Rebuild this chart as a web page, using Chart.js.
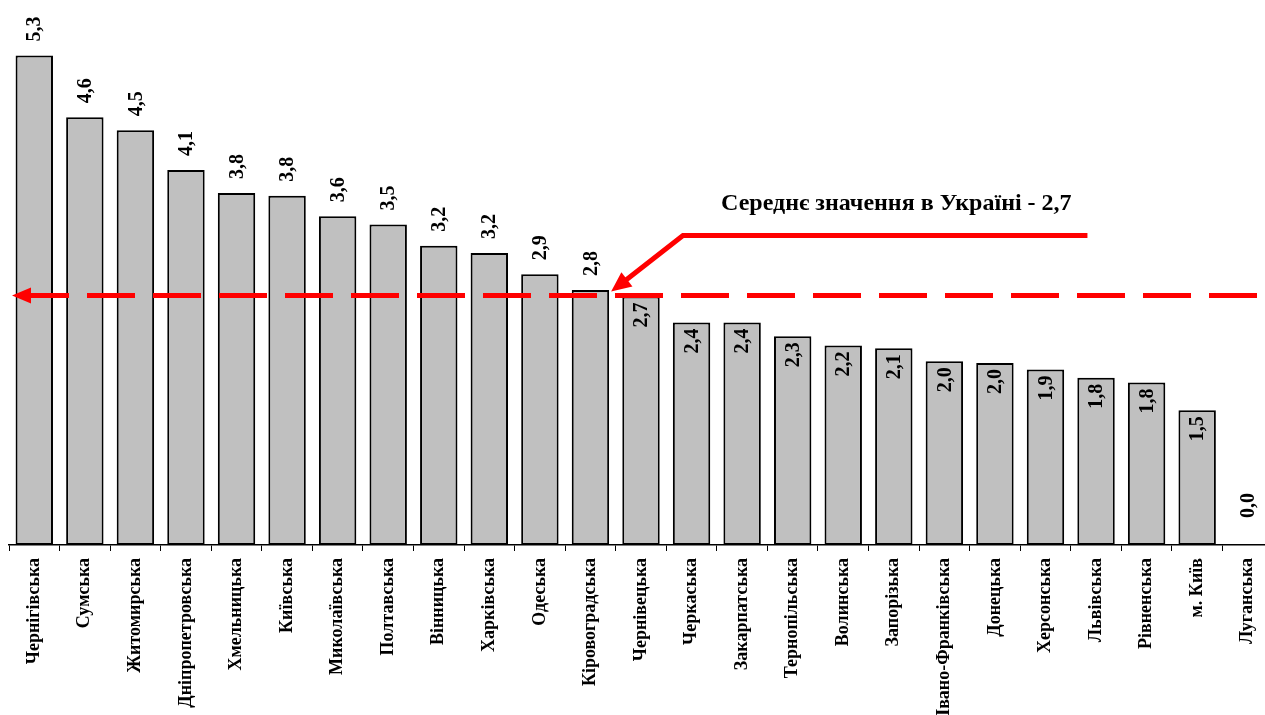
<!DOCTYPE html>
<html>
<head>
<meta charset="utf-8">
<script src="https://cdn.jsdelivr.net/npm/chart.js@4"></script>
<style>
  html, body { margin: 0; padding: 0; background: #fff; overflow: hidden; }
  #wrap { width: 1273px; height: 715px; position: relative; }
</style>
</head>
<body>
<div id="wrap"><canvas id="chart"></canvas></div>
<script>
const regions = ["Чернігівська", "Сумська", "Житомирська", "Дніпропетровська", "Хмельницька",
  "Київська", "Миколаївська", "Полтавська", "Вінницька", "Харківська", "Одеська",
  "Кіровоградська", "Чернівецька", "Черкаська", "Закарпатська", "Тернопільська",
  "Волинська", "Запорізька", "Івано-Франківська", "Донецька", "Херсонська",
  "Львівська", "Рівненська", "м. Київ", "Луганська"];
const values = [5.3, 4.63, 4.49, 4.06, 3.81, 3.78, 3.56, 3.47, 3.24, 3.16, 2.93, 2.76,
  2.69, 2.41, 2.41, 2.26, 2.16, 2.13, 1.99, 1.97, 1.90, 1.81, 1.76, 1.46, 0];
const avgValue = 2.7;
const avgText = "Середнє значення в Україні - 2,7";

const FONT = "'Liberation Serif', 'Times New Roman', serif";
const RED = "#ff0000";

function fmt(v) {
  return v.toFixed(1).replace(".", ",");
}

function arrowHead(ctx, tipX, tipY, angle, len, half) {
  ctx.save();
  ctx.translate(tipX, tipY);
  ctx.rotate(angle);
  ctx.beginPath();
  ctx.moveTo(0, 0);
  ctx.lineTo(len, -half);
  ctx.lineTo(len, half);
  ctx.closePath();
  ctx.fill();
  ctx.restore();
}

const overlay = {
  id: "overlay",
  afterDatasetsDraw(chart) {
    const ctx = chart.ctx;
    const area = chart.chartArea;
    const x = chart.scales.x;
    const y = chart.scales.y;
    const bars = chart.getDatasetMeta(0).data;

    // value labels, rotated
    ctx.save();
    ctx.fillStyle = "#000";
    ctx.font = "bold 20px " + FONT;
    ctx.textBaseline = "middle";
    bars.forEach((b, i) => {
      const v = values[i];
      ctx.save();
      if (v > avgValue || v === 0) {
        const gap = v === 0 ? 27 : 14;
        ctx.translate(b.x, b.y - gap);
        ctx.rotate(-Math.PI / 2);
        ctx.textAlign = "left";
      } else {
        ctx.translate(b.x, b.y + 6);
        ctx.rotate(-Math.PI / 2);
        ctx.textAlign = "right";
      }
      ctx.fillText(fmt(v), 0, 1);
      ctx.restore();
    });
    ctx.restore();

    // average dashed line with arrow on the left
    const ya = y.getPixelForValue(avgValue);
    ctx.save();
    ctx.strokeStyle = RED;
    ctx.fillStyle = RED;
    ctx.lineWidth = 5;
    ctx.setLineDash([48, 18]);
    ctx.beginPath();
    ctx.moveTo(area.left + 12, ya);
    ctx.lineTo(area.right, ya);
    ctx.stroke();
    ctx.setLineDash([]);
    arrowHead(ctx, area.left + 3, ya, 0, 19, 8);

    // callout
    const b11 = bars[11];
    const tipX = b11.x + b11.width / 2 + 2;
    const tipY = ya - 4;
    const cornerX = x.getPixelForValue(12.83);
    const cornerY = ya - 60;
    const endX = x.getPixelForValue(20.83);
    const ang = Math.atan2(cornerY - tipY, cornerX - tipX);
    ctx.lineWidth = 5;
    ctx.beginPath();
    ctx.moveTo(tipX + Math.cos(ang) * 14, tipY + Math.sin(ang) * 14);
    ctx.lineTo(cornerX, cornerY);
    ctx.lineTo(endX, cornerY);
    ctx.stroke();
    arrowHead(ctx, tipX, tipY, ang, 20, 9);

    ctx.fillStyle = "#000";
    ctx.font = "bold 24px " + FONT;
    ctx.textAlign = "center";
    ctx.textBaseline = "alphabetic";
    ctx.fillText(avgText, x.getPixelForValue(17.05), cornerY - 26);
    ctx.restore();
  }
};

new Chart(document.getElementById("chart"), {
  type: "bar",
  data: {
    labels: regions,
    datasets: [{
      data: values,
      backgroundColor: "#c0c0c0",
      borderColor: "#000",
      borderWidth: 2,
      borderSkipped: false,
      categoryPercentage: 1,
      barPercentage: 0.74
    }]
  },
  options: {
    responsive: true,
    maintainAspectRatio: false,
    animation: false,
    layout: { padding: { left: 9, right: 0, top: 0, bottom: 0 } },
    plugins: {
      legend: { display: false },
      tooltip: { enabled: false }
    },
    scales: {
      x: {
        grid: {
          display: true,
          drawOnChartArea: false,
          drawTicks: true,
          tickLength: 6,
          color: "#000",
          lineWidth: 1
        },
        border: { display: true, color: "#000", width: 1.5 },
        ticks: {
          color: "#000",
          font: { family: FONT, size: 18, weight: "bold" },
          maxRotation: 90,
          minRotation: 90,
          autoSkip: false,
          padding: 7
        },
        afterFit(scale) {
          scale.height = 170;
          scale.paddingLeft = 0;
          scale.paddingRight = 0;
        }
      },
      y: {
        display: false,
        min: 0,
        max: 5.9
      }
    }
  },
  plugins: [overlay]
});
</script>
</body>
</html>
